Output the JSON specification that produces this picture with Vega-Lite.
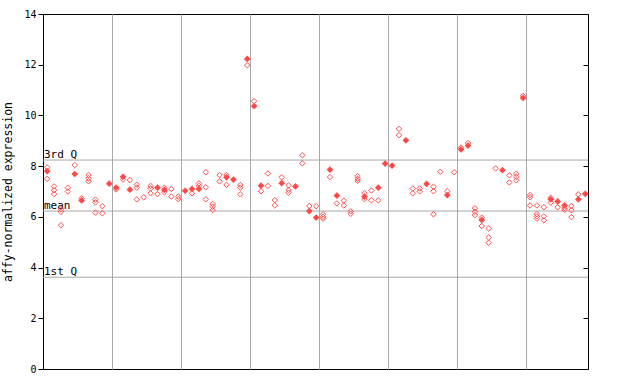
{
  "$schema": "https://vega.github.io/schema/vega-lite/v6.json",
  "width": 545,
  "height": 355,
  "autosize": "none",
  "padding": {"left": 43, "top": 14, "right": 52, "bottom": 15},
  "background": "white",
  "config": {
    "view": {"stroke": "#000", "strokeWidth": 1},
    "axis": {"labelFont": "DejaVu Sans Mono", "titleFont": "DejaVu Sans Mono", "labelColor": "#000", "titleColor": "#000", "domainColor": "#000", "tickColor": "#000", "titleFontWeight": "normal"}
  },
  "resolve": {"axis": {"x": "independent", "y": "independent"}},
  "datasets": {
    "pts": [
      {"s":0,"v":7.95,"t":"h"},{"s":0,"v":7.8,"t":"f"},{"s":0,"v":7.5,"t":"h"},
      {"s":1,"v":7.2,"t":"h"},{"s":1,"v":7.05,"t":"h"},{"s":1,"v":6.9,"t":"h"},
      {"s":2,"v":6.3,"t":"h"},{"s":2,"v":6.2,"t":"h"},{"s":2,"v":5.67,"t":"h"},
      {"s":3,"v":7.15,"t":"h"},{"s":3,"v":7.0,"t":"h"},
      {"s":4,"v":8.04,"t":"h"},{"s":4,"v":7.69,"t":"f"},
      {"s":5,"v":6.65,"t":"f"},{"s":5,"v":6.73,"t":"h"},
      {"s":6,"v":7.65,"t":"h"},{"s":6,"v":7.52,"t":"h"},{"s":6,"v":7.4,"t":"h"},
      {"s":7,"v":6.68,"t":"h"},{"s":7,"v":6.57,"t":"h"},{"s":7,"v":6.17,"t":"h"},
      {"s":8,"v":6.42,"t":"h"},{"s":8,"v":6.14,"t":"h"},
      {"s":9,"v":7.31,"t":"f"},
      {"s":10,"v":7.15,"t":"f"},{"s":10,"v":7.08,"t":"h"},
      {"s":11,"v":7.58,"t":"f"},{"s":11,"v":7.47,"t":"h"},
      {"s":12,"v":7.45,"t":"h"},{"s":12,"v":7.07,"t":"f"},
      {"s":13,"v":7.27,"t":"h"},{"s":13,"v":7.15,"t":"h"},{"s":13,"v":6.69,"t":"h"},
      {"s":14,"v":6.77,"t":"h"},
      {"s":15,"v":7.22,"t":"h"},{"s":15,"v":7.12,"t":"h"},{"s":15,"v":6.93,"t":"h"},
      {"s":16,"v":7.15,"t":"f"},{"s":16,"v":6.9,"t":"h"},
      {"s":17,"v":7.15,"t":"h"},{"s":17,"v":7.06,"t":"f"},{"s":17,"v":6.97,"t":"h"},
      {"s":18,"v":7.1,"t":"h"},{"s":18,"v":6.8,"t":"h"},
      {"s":19,"v":6.8,"t":"h"},{"s":19,"v":6.7,"t":"h"},
      {"s":20,"v":7.03,"t":"f"},
      {"s":21,"v":7.1,"t":"f"},{"s":21,"v":6.93,"t":"h"},
      {"s":22,"v":7.32,"t":"h"},{"s":22,"v":7.22,"t":"h"},{"s":22,"v":7.1,"t":"f"},
      {"s":23,"v":7.76,"t":"h"},{"s":23,"v":7.17,"t":"h"},{"s":23,"v":6.69,"t":"h"},
      {"s":24,"v":6.51,"t":"h"},{"s":24,"v":6.4,"t":"h"},{"s":24,"v":6.27,"t":"h"},
      {"s":25,"v":7.65,"t":"h"},{"s":25,"v":7.4,"t":"h"},
      {"s":26,"v":7.65,"t":"h"},{"s":26,"v":7.56,"t":"f"},{"s":26,"v":7.26,"t":"h"},
      {"s":27,"v":7.47,"t":"f"},
      {"s":28,"v":7.26,"t":"h"},{"s":28,"v":7.15,"t":"h"},{"s":28,"v":6.89,"t":"h"},
      {"s":29,"v":12.23,"t":"f"},{"s":29,"v":11.98,"t":"h"},
      {"s":30,"v":10.56,"t":"h"},{"s":30,"v":10.37,"t":"f"},
      {"s":31,"v":7.23,"t":"f"},{"s":31,"v":7.01,"t":"h"},
      {"s":32,"v":7.71,"t":"h"},{"s":32,"v":7.22,"t":"h"},
      {"s":33,"v":6.66,"t":"h"},{"s":33,"v":6.45,"t":"h"},
      {"s":34,"v":7.56,"t":"h"},{"s":34,"v":7.33,"t":"f"},
      {"s":35,"v":7.24,"t":"h"},{"s":35,"v":7.06,"t":"h"},{"s":35,"v":6.95,"t":"h"},
      {"s":36,"v":7.2,"t":"f"},
      {"s":37,"v":8.43,"t":"h"},{"s":37,"v":8.11,"t":"h"},
      {"s":38,"v":6.43,"t":"h"},{"s":38,"v":6.23,"t":"f"},
      {"s":39,"v":6.42,"t":"h"},{"s":39,"v":5.97,"t":"f"},
      {"s":40,"v":6.1,"t":"h"},{"s":40,"v":6.0,"t":"h"},{"s":40,"v":5.93,"t":"h"},
      {"s":41,"v":7.86,"t":"f"},{"s":41,"v":7.57,"t":"h"},
      {"s":42,"v":6.84,"t":"f"},{"s":42,"v":6.53,"t":"h"},
      {"s":43,"v":6.64,"t":"h"},{"s":43,"v":6.45,"t":"h"},
      {"s":44,"v":6.22,"t":"h"},{"s":44,"v":6.12,"t":"h"},
      {"s":45,"v":7.61,"t":"h"},{"s":45,"v":7.5,"t":"h"},{"s":45,"v":7.42,"t":"h"},
      {"s":46,"v":6.94,"t":"h"},{"s":46,"v":6.8,"t":"f"},{"s":46,"v":6.7,"t":"h"},
      {"s":47,"v":7.04,"t":"h"},{"s":47,"v":6.65,"t":"h"},
      {"s":48,"v":7.15,"t":"f"},{"s":48,"v":6.65,"t":"h"},
      {"s":49,"v":8.1,"t":"f"},
      {"s":50,"v":8.02,"t":"f"},
      {"s":51,"v":9.47,"t":"h"},{"s":51,"v":9.22,"t":"h"},
      {"s":52,"v":9.02,"t":"f"},
      {"s":53,"v":7.12,"t":"h"},{"s":53,"v":6.93,"t":"h"},
      {"s":54,"v":7.12,"t":"h"},{"s":54,"v":7.01,"t":"h"},
      {"s":55,"v":7.3,"t":"f"},
      {"s":56,"v":7.19,"t":"h"},{"s":56,"v":7.01,"t":"h"},{"s":56,"v":6.1,"t":"h"},
      {"s":57,"v":7.78,"t":"h"},
      {"s":58,"v":7.01,"t":"h"},{"s":58,"v":6.86,"t":"f"},
      {"s":59,"v":7.76,"t":"h"},
      {"s":60,"v":8.73,"t":"h"},{"s":60,"v":8.66,"t":"f"},
      {"s":61,"v":8.91,"t":"h"},{"s":61,"v":8.81,"t":"f"},
      {"s":62,"v":6.34,"t":"h"},{"s":62,"v":6.2,"t":"h"},{"s":62,"v":6.07,"t":"h"},
      {"s":63,"v":5.97,"t":"h"},{"s":63,"v":5.88,"t":"f"},{"s":63,"v":5.64,"t":"h"},
      {"s":64,"v":5.54,"t":"h"},{"s":64,"v":5.19,"t":"h"},{"s":64,"v":4.98,"t":"h"},
      {"s":65,"v":7.91,"t":"h"},
      {"s":66,"v":7.84,"t":"f"},
      {"s":67,"v":7.64,"t":"h"},{"s":67,"v":7.36,"t":"h"},
      {"s":68,"v":7.7,"t":"h"},{"s":68,"v":7.58,"t":"h"},{"s":68,"v":7.44,"t":"h"},
      {"s":69,"v":10.77,"t":"h"},{"s":69,"v":10.69,"t":"f"},
      {"s":70,"v":6.86,"t":"h"},{"s":70,"v":6.77,"t":"h"},{"s":70,"v":6.45,"t":"h"},
      {"s":71,"v":6.45,"t":"h"},{"s":71,"v":6.11,"t":"h"},{"s":71,"v":6.02,"t":"h"},{"s":71,"v":5.93,"t":"h"},
      {"s":72,"v":6.38,"t":"h"},{"s":72,"v":6.02,"t":"h"},{"s":72,"v":5.86,"t":"h"},
      {"s":73,"v":6.75,"t":"h"},{"s":73,"v":6.69,"t":"f"},{"s":73,"v":6.56,"t":"h"},
      {"s":74,"v":6.61,"t":"f"},{"s":74,"v":6.38,"t":"h"},
      {"s":75,"v":6.45,"t":"f"},{"s":75,"v":6.35,"t":"h"},{"s":75,"v":6.27,"t":"h"},
      {"s":76,"v":6.43,"t":"h"},{"s":76,"v":6.26,"t":"h"},{"s":76,"v":5.99,"t":"h"},
      {"s":77,"v":6.89,"t":"h"},{"s":77,"v":6.69,"t":"f"},
      {"s":78,"v":6.91,"t":"f"}
    ],
    "refs": [
      {"label": "3rd Q", "y": 8.24},
      {"label": "mean", "y": 6.23},
      {"label": "1st Q", "y": 3.62}
    ]
  },
  "layer": [
    {
      "data": {"name": "refs"},
      "mark": {"type": "rule", "color": "#a8a8a8", "strokeWidth": 1},
      "encoding": {
        "y": {"field": "y", "type": "quantitative", "scale": {"domain": [0, 14], "nice": false},
              "axis": {"orient": "right", "labels": false, "title": null, "grid": false, "values": [0,2,4,6,8,10,12,14], "tickSize": -5, "domain": false}}
      }
    },
    {
      "data": {"name": "refs"},
      "mark": {"type": "text", "align": "left", "baseline": "alphabetic", "font": "DejaVu Sans Mono", "fontSize": 11, "color": "#000", "dx": 1, "dy": -2},
      "encoding": {
        "x": {"datum": -0.6, "type": "quantitative", "axis": null},
        "y": {"field": "y", "type": "quantitative", "axis": null},
        "text": {"field": "label"}
      }
    },
    {
      "data": {"name": "pts"},
      "transform": [{"filter": "datum.t === 'h'"}],
      "mark": {"type": "point", "shape": "diamond", "filled": false, "size": 30, "stroke": "#ff5050", "strokeWidth": 1, "opacity": 1},
      "encoding": {
        "x": {"field": "s", "type": "quantitative", "scale": {"domain": [-0.6, 78.4], "nice": false, "zero": false},
              "axis": {"title": null, "labels": false, "ticks": false, "domain": false, "grid": true, "gridColor": "#a8a8a8", "gridOpacity": 1, "values": [9.4, 19.4, 29.4, 39.4, 49.4, 59.4, 69.4]}},
        "y": {"field": "v", "type": "quantitative",
              "axis": {"orient": "left", "title": "affy-normalized expression", "titleFontSize": 11.5, "titlePadding": 10, "labelFontSize": 10, "values": [0,2,4,6,8,10,12,14], "tickSize": 5, "grid": false, "labelPadding": 2}}
      }
    },
    {
      "data": {"name": "pts"},
      "transform": [{"filter": "datum.t === 'f'"}],
      "mark": {"type": "point", "shape": "diamond", "filled": true, "size": 45, "color": "#ff4848", "opacity": 1},
      "encoding": {
        "x": {"field": "s", "type": "quantitative", "axis": null},
        "y": {"field": "v", "type": "quantitative", "axis": null}
      }
    }
  ]
}
